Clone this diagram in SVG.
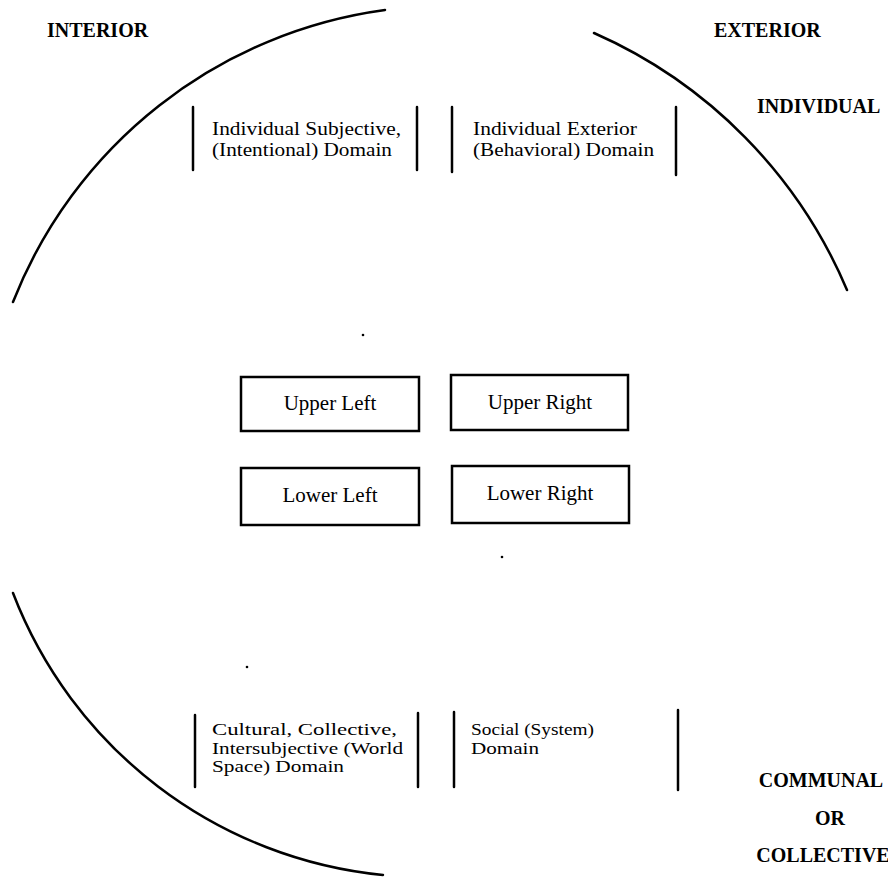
<svg xmlns="http://www.w3.org/2000/svg" width="888" height="881" viewBox="0 0 888 881">
<style>
text{font-family:"Liberation Serif","Times New Roman",serif;fill:#000}
.hd{font-size:20px;font-weight:bold}
.tx{font-size:18px}
.tb{font-size:16px}
.bx{font-size:21px;text-anchor:middle}
.arc{fill:none;stroke:#000;stroke-width:2.5;stroke-linecap:round}
.box{fill:#fff;stroke:#000;stroke-width:2.5}
.br{stroke:#000;stroke-width:2.5;stroke-linecap:round}
</style>
<rect width="888" height="881" fill="#fff"/>
<g id="arcs">
<path class="arc" d="M 13 302 A 467 467 0 0 1 385 10"/>
<path class="arc" d="M 594 33 A 488 488 0 0 1 847 290"/>
<path class="arc" d="M 13 593 A 443 443 0 0 0 383 875"/>
</g>
<g id="labels">
<text class="hd" x="47" y="37">INTERIOR</text>
<text class="hd" x="714" y="37">EXTERIOR</text>
<text class="hd" x="757" y="113">INDIVIDUAL</text>
<text class="hd" x="821" y="787" text-anchor="middle">COMMUNAL</text>
<text class="hd" x="830" y="825" text-anchor="middle">OR</text>
<text class="hd" x="823" y="862" text-anchor="middle">COLLECTIVE</text>
</g>
<g id="dots">
<circle cx="363" cy="335" r="1.3"/>
<circle cx="502" cy="557" r="1.3"/>
<circle cx="247" cy="667" r="1.3"/>
</g>
<g id="domain-ul">
<line class="br" x1="193" y1="107" x2="193" y2="170"/>
<line class="br" x1="417" y1="107" x2="417" y2="170"/>
<text class="tx" x="212" y="135" textLength="189" lengthAdjust="spacingAndGlyphs">Individual Subjective,</text>
<text class="tx" x="212" y="156" textLength="180" lengthAdjust="spacingAndGlyphs">(Intentional) Domain</text>
</g>
<g id="domain-ur">
<line class="br" x1="452" y1="107" x2="452" y2="172"/>
<line class="br" x1="676" y1="107" x2="676" y2="175"/>
<text class="tx" x="473" y="135" textLength="164" lengthAdjust="spacingAndGlyphs">Individual Exterior</text>
<text class="tx" x="473" y="156" textLength="181" lengthAdjust="spacingAndGlyphs">(Behavioral) Domain</text>
</g>
<g id="domain-ll">
<line class="br" x1="195" y1="715" x2="195" y2="787"/>
<line class="br" x1="418" y1="713" x2="418" y2="787"/>
<text class="tb" x="212" y="735" textLength="185" lengthAdjust="spacingAndGlyphs">Cultural, Collective,</text>
<text class="tb" x="212" y="753.5" textLength="191" lengthAdjust="spacingAndGlyphs">Intersubjective (World</text>
<text class="tb" x="212" y="772" textLength="132" lengthAdjust="spacingAndGlyphs">Space) Domain</text>
</g>
<g id="domain-lr">
<line class="br" x1="454" y1="712" x2="454" y2="787"/>
<line class="br" x1="678" y1="710" x2="678" y2="790"/>
<text class="tb" x="471" y="735" textLength="123" lengthAdjust="spacingAndGlyphs">Social (System)</text>
<text class="tb" x="471" y="753.5" textLength="68" lengthAdjust="spacingAndGlyphs">Domain</text>
</g>
<g id="upper-left">
<rect class="box" x="241" y="377" width="178" height="54"/>
<text class="bx" x="330" y="410">Upper Left</text>
</g>
<g id="upper-right">
<rect class="box" x="451" y="375" width="177" height="55"/>
<text class="bx" x="540" y="409">Upper Right</text>
</g>
<g id="lower-left">
<rect class="box" x="241" y="468" width="178" height="57"/>
<text class="bx" x="330" y="502">Lower Left</text>
</g>
<g id="lower-right">
<rect class="box" x="452" y="466" width="177" height="57"/>
<text class="bx" x="540" y="500">Lower Right</text>
</g>
<g id="connectors"></g>
</svg>
